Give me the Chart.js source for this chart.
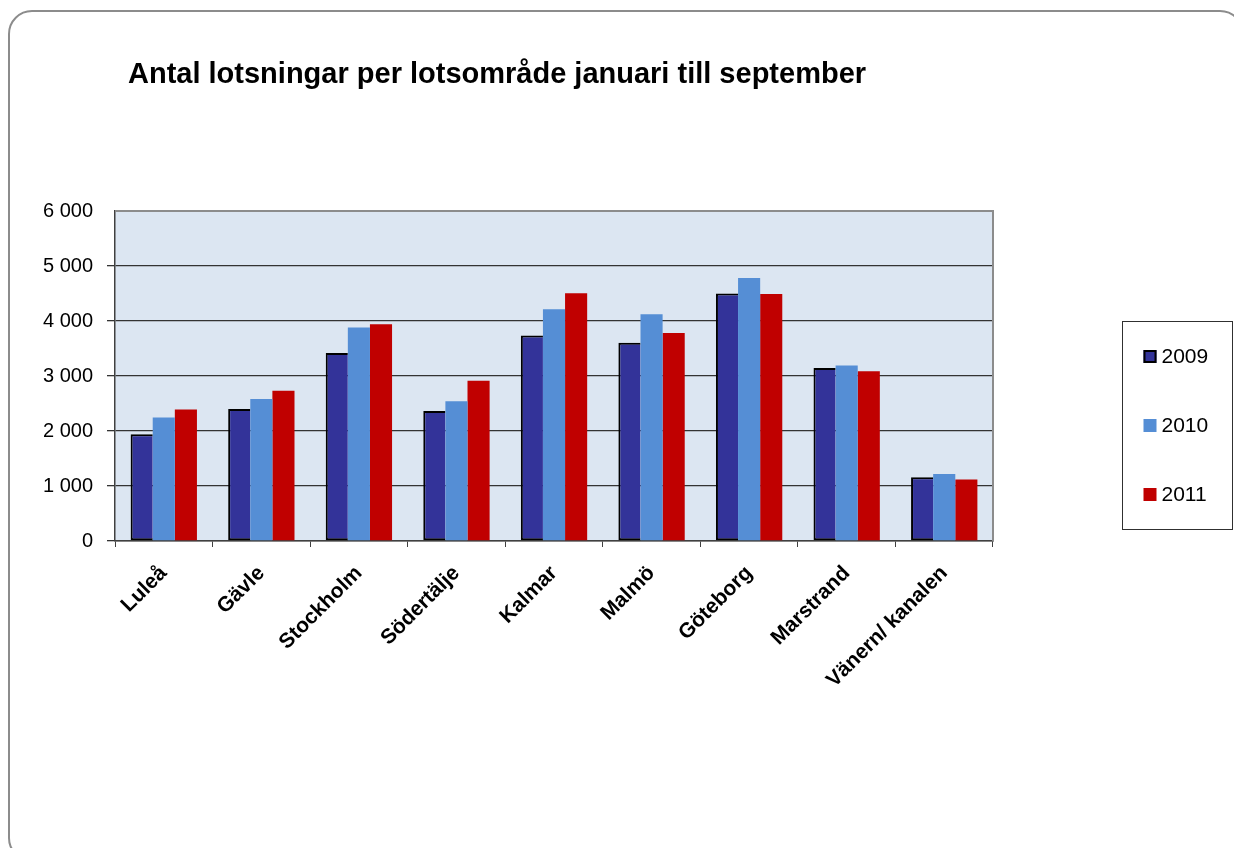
<!DOCTYPE html>
<html>
<head>
<meta charset="utf-8">
<script src="https://cdn.jsdelivr.net/npm/chart.js@4/dist/chart.umd.min.js"></script>
<style>
  html, body { margin: 0; padding: 0; background: #ffffff; width: 1234px; height: 848px; overflow: hidden; }
  #frame { position: absolute; left: 8px; top: 10px; width: 1236px; height: 852px; border: 2px solid #8c8c8c; border-radius: 24px; box-sizing: border-box; }
  #wrap { position: absolute; left: 0; top: 0; width: 1234px; height: 848px; }
</style>
</head>
<body>
<div id="frame"></div>
<div id="wrap"><canvas id="c" width="1234" height="848"></canvas></div>
<script>
const chartTitle = "Antal lotsningar per lotsområde januari till september";
const categories = ["Luleå", "Gävle", "Stockholm", "Södertälje", "Kalmar", "Malmö", "Göteborg", "Marstrand", "Vänern/ kanalen"];
const seriesNames = ["2009", "2010", "2011"];
const values2009 = [1940, 2400, 3420, 2365, 3735, 3605, 4500, 3145, 1160];
const values2010 = [2245, 2580, 3880, 2540, 4215, 4125, 4780, 3190, 1220];
const values2011 = [2390, 2730, 3940, 2915, 4505, 3780, 4490, 3085, 1120];
const yTicks = [0, 1000, 2000, 3000, 4000, 5000, 6000];

const fmt = v => String(v).replace(/\B(?=(\d{3})+(?!\d))/g, ' ');

const bgPlugin = {
  id: 'plotBg',
  beforeDraw(chart) {
    const { ctx, chartArea: a } = chart;
    ctx.save();
    ctx.fillStyle = '#dce6f2';
    ctx.fillRect(a.left, a.top, a.right - a.left, a.bottom - a.top);
    ctx.restore();
  },
  afterDatasetsDraw(chart) {
    const { ctx, chartArea: a } = chart;
    ctx.save();
    ctx.strokeStyle = '#8c8c8c';
    ctx.lineWidth = 2;
    ctx.beginPath();
    ctx.moveTo(a.left, a.top);
    ctx.lineTo(a.right, a.top);
    ctx.lineTo(a.right, a.bottom);
    ctx.stroke();
    ctx.restore();
  }
};

const titleLegendPlugin = {
  id: 'titleLegend',
  afterDraw(chart) {
    const { ctx } = chart;
    ctx.save();
    ctx.fillStyle = '#000';
    ctx.font = 'bold 29px "Liberation Sans", Arial, sans-serif';
    ctx.textBaseline = 'alphabetic';
    ctx.textAlign = 'left';
    ctx.fillText(chartTitle, 128, 83);

    // legend box
    const lx = 1122.5, ly = 321.5, lw = 110, lh = 208;
    ctx.strokeStyle = '#303030';
    ctx.lineWidth = 1;
    ctx.strokeRect(lx, ly, lw, lh);
    ctx.font = '21px "Liberation Sans", Arial, sans-serif';
    ctx.textBaseline = 'middle';
    chart.data.datasets.forEach((ds, i) => {
      const cy = ly + 35 + i * 69;
      ctx.fillStyle = ds.backgroundColor;
      ctx.fillRect(lx + 21, cy - 6.5, 13, 13);
      if (i === 0) {
        ctx.strokeStyle = '#000';
        ctx.lineWidth = 2;
        ctx.strokeRect(lx + 22, cy - 5.5, 11, 11);
      }
      ctx.fillStyle = '#000';
      ctx.fillText(ds.label, lx + 39, cy + 1);
    });
    ctx.restore();
  }
};

new Chart(document.getElementById('c'), {
  type: 'bar',
  data: {
    labels: categories,
    datasets: [
      { label: seriesNames[0], data: values2009, backgroundColor: '#333399', borderColor: '#000000', borderWidth: 2, borderSkipped: 'right' },
      { label: seriesNames[1], data: values2010, backgroundColor: '#558ed5', borderWidth: 0 },
      { label: seriesNames[2], data: values2011, backgroundColor: '#c00000', borderWidth: 0 }
    ]
  },
  options: {
    responsive: false,
    animation: false,
    devicePixelRatio: 1,
    layout: { padding: { left: 0, top: 211, right: 241, bottom: 60 } },
    datasets: { bar: { categoryPercentage: 0.68, barPercentage: 1.0 } },
    plugins: {
      legend: { display: false },
      title: { display: false },
      tooltip: { enabled: false }
    },
    scales: {
      x: {
        grid: { display: true, offset: true, drawOnChartArea: false, drawTicks: true, tickLength: 6, color: '#404040', lineWidth: 1 },
        border: { display: true, color: '#404040', width: 1.5 },
        ticks: {
          color: '#000',
          font: { family: '"Liberation Sans", Arial, sans-serif', size: 21, weight: 'bold' },
          minRotation: 45, maxRotation: 45, padding: 14, autoSkip: false
        },
        afterFit(scale) { scale.height = 848 - 541 - 60; }
      },
      y: {
        min: 0, max: 6000,
        afterBuildTicks(scale) { scale.ticks = yTicks.map(v => ({ value: v })); },
        grid: {
          color: ctx => (ctx.tick && ctx.tick.value === 6000) ? 'rgba(0,0,0,0)' : '#333333',
          lineWidth: 1.3, drawTicks: true, tickLength: 8
        },
        border: { display: true, color: '#404040', width: 1.5 },
        ticks: {
          color: '#000',
          font: { family: '"Liberation Sans", Arial, sans-serif', size: 20 },
          padding: 14,
          callback: v => fmt(v)
        },
        afterFit(scale) { scale.width = 115; }
      }
    }
  },
  plugins: [bgPlugin, titleLegendPlugin]
});
</script>
</body>
</html>
